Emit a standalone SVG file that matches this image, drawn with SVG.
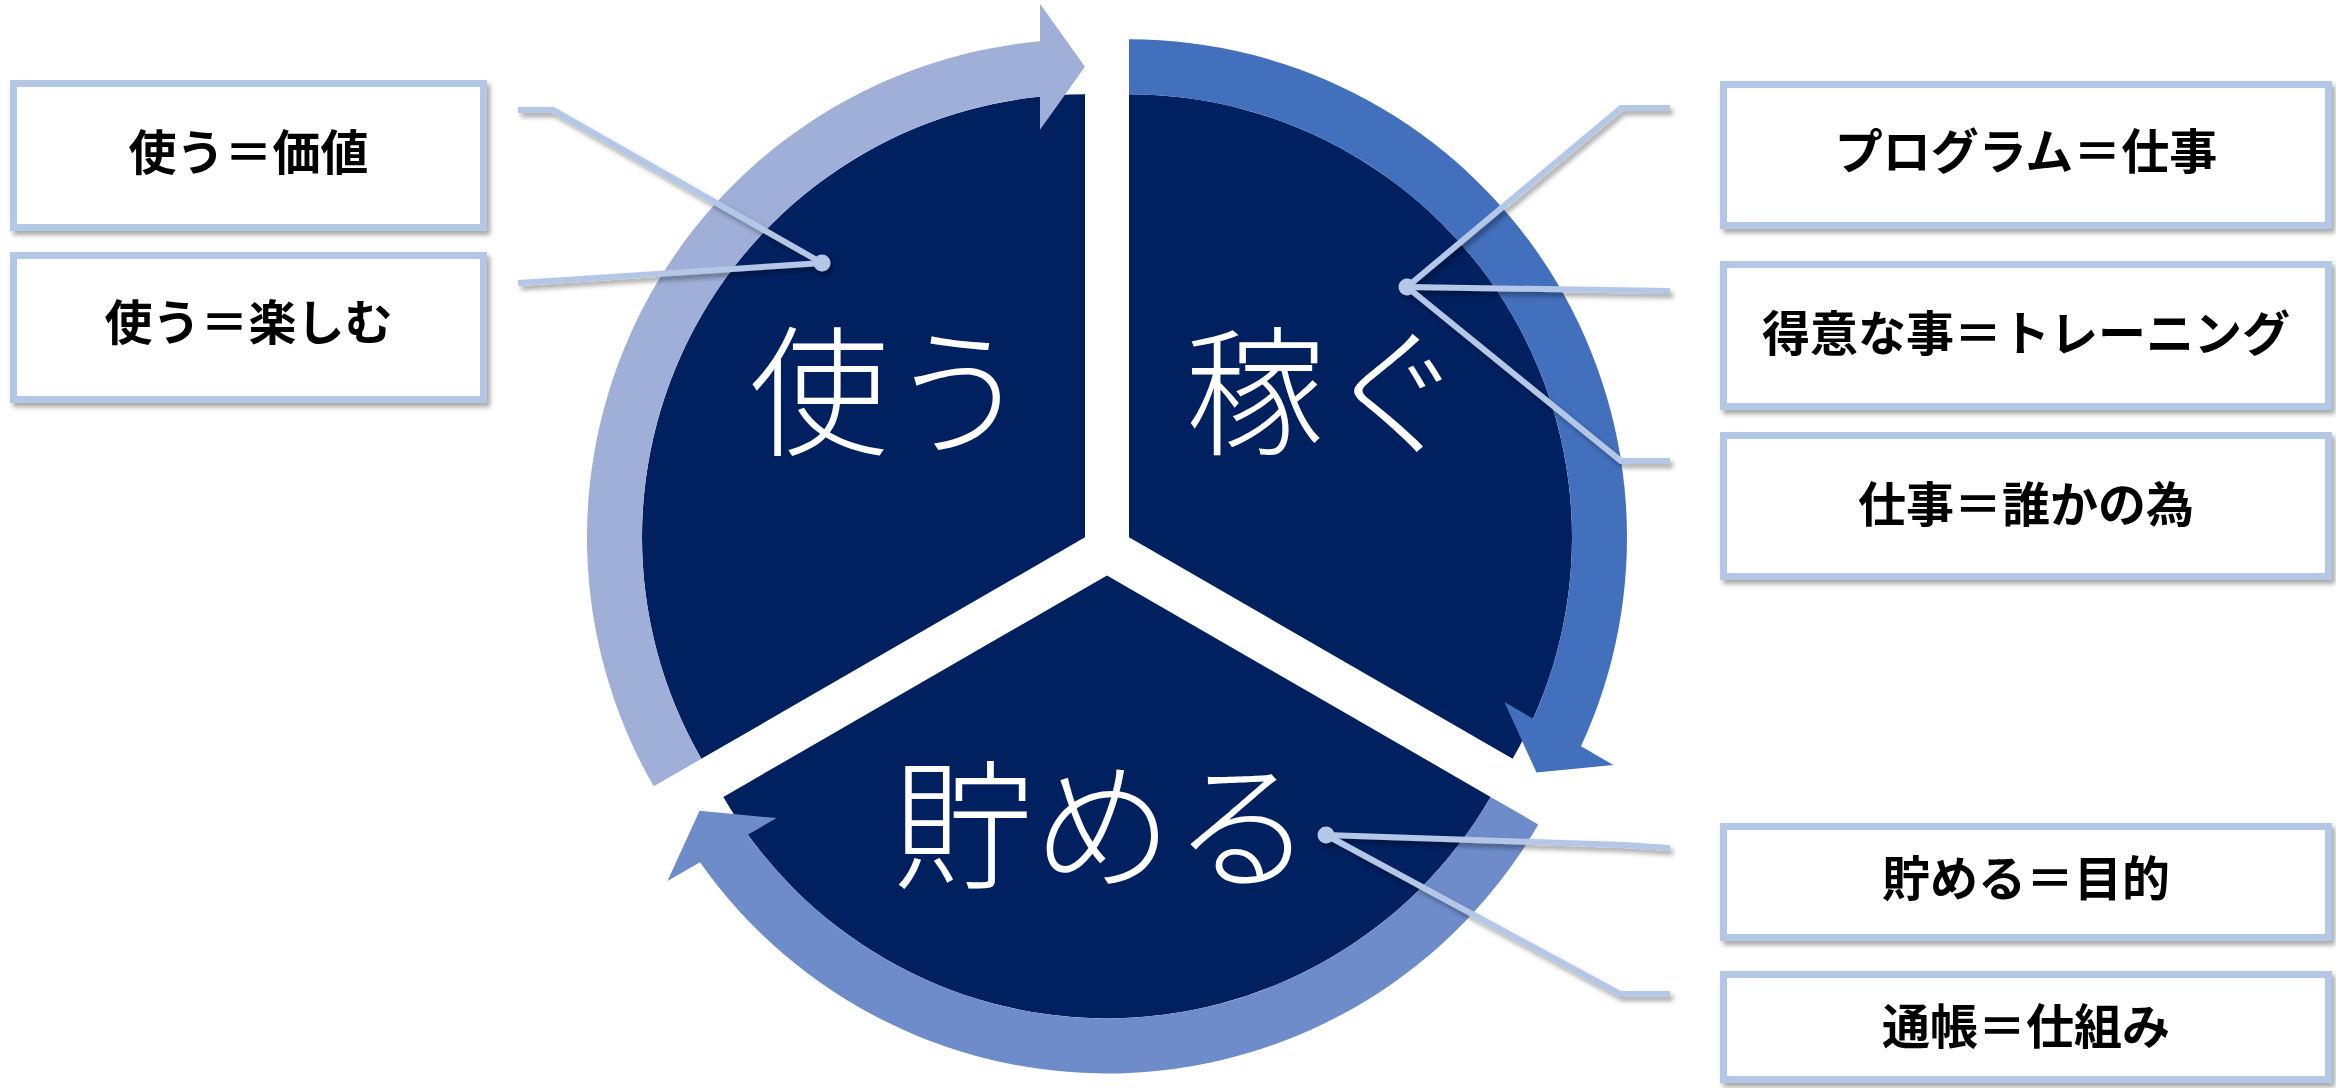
<svg xmlns="http://www.w3.org/2000/svg" width="2336" height="1088" viewBox="0 0 2336 1088">
<defs>
<filter id="sh" x="-10%" y="-10%" width="130%" height="140%">
<feDropShadow dx="3" dy="4" stdDeviation="2.5" flood-color="#000" flood-opacity="0.35"/>
</filter>
<style>
.sector{fill:#002060}
.big{font-family:"Noto Sans CJK JP Light","Noto Sans CJK JP","Noto Sans CJK SC",sans-serif;font-size:140px;font-weight:300;fill:#fff;text-anchor:middle}
.box rect{fill:#fff;stroke:#B4C7E7;stroke-width:7}
.box text{font-family:"Noto Sans CJK JP","Noto Sans CJK SC",sans-serif;font-size:48px;font-weight:700;fill:#000;text-anchor:middle}
.co{fill:none;stroke:#B4C7E7;stroke-width:6;stroke-linejoin:miter}
.dot{fill:#B4C7E7}
</style>
</defs>
<rect width="2336" height="1088" fill="#fff"/>
<g id="cycle">
<g id="node-tsukau">
<path class="sector" d="M1085,537.3 L701.35,758.8 A443,443 0 0 1 1085,94.3 Z"/>
<text class="big" x="889" y="444">使う</text>
</g>
<g id="node-kasegu">
<path class="sector" d="M1129,537.3 L1129,94.3 A443,443 0 0 1 1512.65,758.8 Z"/>
<text class="big" x="1325" y="444">稼ぐ</text>
</g>
<g id="node-tameru">
<path class="sector" d="M1107,575.4 L1490.65,796.9 A443,443 0 0 1 723.35,796.9 Z"/>
<text class="big" x="1103" y="878">貯める</text>
</g>
<g id="arrows">
<path fill="#9FAFD8" d="M653.72,786.3 A498,498 0 0 1 1040,41.34 L1040,3.8 L1085,66.8 L1040,129.8 L1040,96.59 A443,443 0 0 0 701.35,758.8 Z"/>
<path fill="#4270BD" d="M1129,39.3 A498,498 0 0 1 1581.01,746.31 L1613.52,765.08 L1536.46,772.55 L1504.4,702.08 L1533.17,718.69 A443,443 0 0 0 1129,94.3 Z"/>
<path fill="#6F8CCA" d="M1538.28,824.4 A498,498 0 0 1 699.99,862.35 L667.48,881.12 L699.54,810.65 L776.6,818.12 L747.83,834.73 A443,443 0 0 0 1490.65,796.9 Z"/>
</g>
</g>
<g id="connectors" filter="url(#sh)">
<polyline class="co" points="518,110 553,110 822,263"/>
<polyline class="co" points="518,283 550,281 822,263"/>
<circle class="dot" cx="822" cy="263" r="8.5"/>
<polyline class="co" points="1670,108 1621,108 1407,287"/>
<polyline class="co" points="1670,291 1407,287"/>
<polyline class="co" points="1670,461 1621,461 1407,287"/>
<circle class="dot" cx="1407" cy="287" r="8.5"/>
<polyline class="co" points="1670,848 1624,845 1326,835"/>
<polyline class="co" points="1670,994 1620,994 1326,835"/>
<circle class="dot" cx="1326" cy="835" r="8.5"/>
</g>
<g id="box-kachi" class="box" filter="url(#sh)">
<rect x="13.5" y="83.5" width="470" height="144"/>
<text x="248.5" y="170">使う＝価値</text>
</g>
<g id="box-tanoshimu" class="box" filter="url(#sh)">
<rect x="13.5" y="255.5" width="470" height="144"/>
<text x="248.5" y="340">使う＝楽しむ</text>
</g>
<g id="box-program" class="box" filter="url(#sh)">
<rect x="1723.5" y="84.5" width="605" height="141"/>
<text x="2026" y="169">プログラム＝仕事</text>
</g>
<g id="box-tokui" class="box" filter="url(#sh)">
<rect x="1723.5" y="264.5" width="605" height="142"/>
<text x="2026" y="351">得意な事＝トレーニング</text>
</g>
<g id="box-dareka" class="box" filter="url(#sh)">
<rect x="1723.5" y="435.5" width="605" height="141"/>
<text x="2026" y="522">仕事＝誰かの為</text>
</g>
<g id="box-mokuteki" class="box" filter="url(#sh)">
<rect x="1723.5" y="826.5" width="605" height="111"/>
<text x="2026" y="896">貯める＝目的</text>
</g>
<g id="box-shikumi" class="box" filter="url(#sh)">
<rect x="1723.5" y="974.5" width="605" height="105"/>
<text x="2026" y="1044">通帳＝仕組み</text>
</g>
</svg>
